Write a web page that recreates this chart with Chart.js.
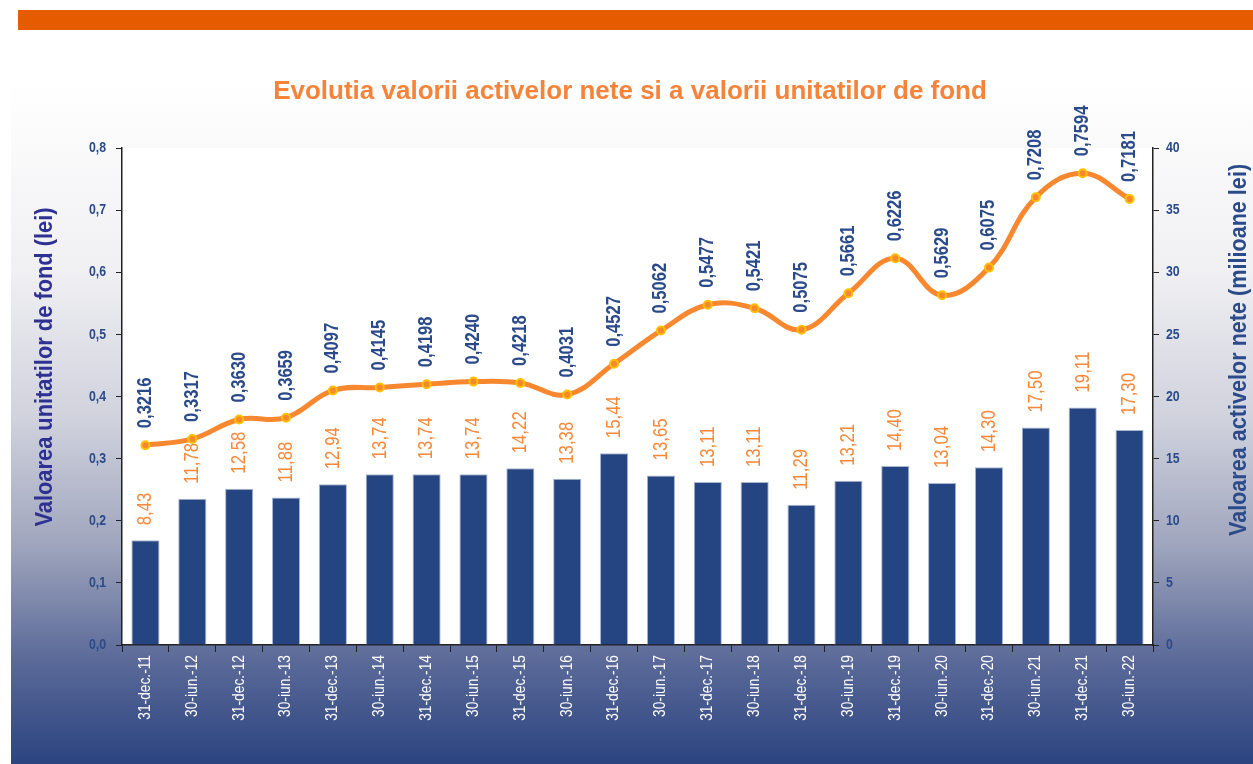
<!DOCTYPE html>
<html>
<head>
<meta charset="utf-8">
<script src="https://cdn.jsdelivr.net/npm/chart.js@4.4.0/dist/chart.umd.min.js"></script>
<style>
  html, body { margin: 0; padding: 0; background: #ffffff; overflow: hidden; }
  #band { position: absolute; left: 18px; top: 10px; width: 1235px; height: 20px; background: #e65a00; }
  #panel { position: absolute; left: 11px; top: 80px; width: 1242px; height: 684px;
    background: linear-gradient(to bottom, #ffffff 0%, #f0f0f3 28%, #cfd1dc 50%, #9fa5bd 68%, #5a6998 85%, #2b4480 100%); }
  #wrap { position: absolute; left: 0; top: 0; width: 1253px; height: 764px; }
</style>
</head>
<body>
<div id="band"></div>
<div id="panel"></div>
<div id="wrap"><canvas id="graph"></canvas></div>
<script>
// categories and values
var dates = ['31-dec.-11', '30-iun.-12', '31-dec.-12', '30-iun.-13', '31-dec.-13', '30-iun.-14',
  '31-dec.-14', '30-iun.-15', '31-dec.-15', '30-iun.-16', '31-dec.-16', '30-iun.-17',
  '31-dec.-17', '30-iun.-18', '31-dec.-18', '30-iun.-19', '31-dec.-19', '30-iun.-20',
  '31-dec.-20', '30-iun.-21', '31-dec.-21', '30-iun.-22'];
var unitValue = [0.3216, 0.3317, 0.3630, 0.3659, 0.4097, 0.4145, 0.4198, 0.4240, 0.4218, 0.4031,
  0.4527, 0.5062, 0.5477, 0.5421, 0.5075, 0.5661, 0.6226, 0.5629, 0.6075, 0.7208, 0.7594, 0.7181];
var netAssets = [8.43, 11.78, 12.58, 11.88, 12.94, 13.74, 13.74, 13.74, 14.22, 13.38, 15.44,
  13.65, 13.11, 13.11, 11.29, 13.21, 14.40, 13.04, 14.30, 17.50, 19.11, 17.30];

var titleText = 'Evolutia valorii activelor nete si a valorii unitatilor de fond';
var leftTitle = 'Valoarea unitatilor de fond (lei)';
var rightTitle = 'Valoarea activelor nete (milioane lei)';

var SANS = "'Liberation Sans', Arial, sans-serif";
var BLUE = '#2b4a8a';
var ORANGE = '#f7883a';

function comma(v, d) {
  return Number(v).toFixed(d).replace('.', ',');
}

// text squeezed along its run, to look like Arial Narrow
function narrowText(ctx, text, x, y, rotate, align, squish) {
  ctx.save();
  ctx.translate(x, y);
  if (rotate) ctx.rotate(-Math.PI / 2);
  ctx.scale(squish, 1);
  ctx.textAlign = align;
  ctx.textBaseline = 'middle';
  ctx.fillText(text, 0, 0);
  ctx.restore();
}

var decorPlugin = {
  id: 'decor',
  beforeDraw: function(chart) {
    var ctx = chart.ctx, a = chart.chartArea;
    ctx.save();
    ctx.fillStyle = '#ffffff';
    ctx.fillRect(a.left, a.top, a.right - a.left, a.bottom - a.top);
    ctx.restore();
  },
  afterDraw: function(chart) {
    var ctx = chart.ctx;
    ctx.save();
    // title
    ctx.font = 'bold 26px ' + SANS;
    ctx.fillStyle = '#f5843a';
    ctx.textAlign = 'center';
    ctx.textBaseline = 'middle';
    ctx.fillText(titleText, 630, 92);

    // axis titles
    ctx.font = 'bold 24px ' + SANS;
    ctx.fillStyle = '#2e3192';
    narrowText(ctx, leftTitle, 45, 367, true, 'center', 0.91);
    ctx.fillStyle = BLUE;
    narrowText(ctx, rightTitle, 1239, 350, true, 'center', 0.9);

    // tick labels
    var sx = chart.scales.x, sy = chart.scales.y, sy1 = chart.scales.y1;
    ctx.font = '16px ' + SANS;
    ctx.fillStyle = '#ffffff';
    sx.ticks.forEach(function(t, i) {
      narrowText(ctx, dates[i], sx.getPixelForTick(i), 655, true, 'right', 0.86);
    });
    ctx.font = 'bold 15px ' + SANS;
    ctx.fillStyle = BLUE;
    sy.ticks.forEach(function(t) {
      narrowText(ctx, comma(t.value, 1), 106, sy.getPixelForValue(t.value), false, 'right', 0.82);
    });
    sy1.ticks.forEach(function(t) {
      narrowText(ctx, String(t.value), 1166, sy1.getPixelForValue(t.value), false, 'left', 0.82);
    });

    // bar labels
    var bars = chart.getDatasetMeta(1).data;
    ctx.font = '21px ' + SANS;
    ctx.fillStyle = ORANGE;
    bars.forEach(function(el, i) {
      narrowText(ctx, comma(netAssets[i], 2), el.x, el.y - 15, true, 'left', 0.8);
    });

    // line labels
    var pts = chart.getDatasetMeta(0).data;
    ctx.font = 'bold 20px ' + SANS;
    ctx.fillStyle = BLUE;
    pts.forEach(function(el, i) {
      narrowText(ctx, comma(unitValue[i], 4), el.x, el.y - 17, true, 'left', 0.83);
    });
    ctx.restore();
  }
};

var ctx = document.getElementById('graph').getContext('2d');
window.myChart = new Chart(ctx, {
  type: 'bar',
  data: {
    labels: dates,
    datasets: [{
      type: 'line',
      label: 'Valoarea unitatii de fond',
      data: unitValue,
      yAxisID: 'y',
      borderColor: '#f7882f',
      borderWidth: 5,
      tension: 0.4,
      pointRadius: 4,
      pointBackgroundColor: '#f7882f',
      pointBorderColor: '#ffc000',
      pointBorderWidth: 2,
      order: 0
    },
    {
      type: 'bar',
      label: 'Valoarea activelor nete',
      data: netAssets,
      yAxisID: 'y1',
      backgroundColor: '#244581',
      borderColor: '#a9b6d2',
      borderWidth: 1,
      borderSkipped: 'bottom',
      categoryPercentage: 1,
      barPercentage: 0.6,
      order: 1
    }]
  },
  options: {
    responsive: true,
    maintainAspectRatio: false,
    animation: false,
    layout: { padding: { top: 148, left: 0, right: 0, bottom: 0 } },
    plugins: {
      legend: { display: false },
      tooltip: { enabled: false }
    },
    scales: {
      x: {
        grid: { display: true, drawOnChartArea: false, offset: true, tickLength: 7, color: '#222' },
        border: { color: '#222', width: 1.5 },
        ticks: { display: false },
        afterFit: function(s) { s.height = 119; }
      },
      y: {
        position: 'left',
        min: 0, max: 0.8,
        grid: { drawOnChartArea: false, tickLength: 6, color: '#222' },
        border: { color: '#222', width: 1.5 },
        ticks: { stepSize: 0.1, display: false },
        afterFit: function(s) { s.width = 122; }
      },
      y1: {
        position: 'right',
        min: 0, max: 40,
        grid: { drawOnChartArea: false, tickLength: 6, color: '#222' },
        border: { color: '#222', width: 1.5 },
        ticks: { stepSize: 5, display: false },
        afterFit: function(s) { s.width = 100; }
      }
    }
  },
  plugins: [decorPlugin]
});
</script>
</body>
</html>
